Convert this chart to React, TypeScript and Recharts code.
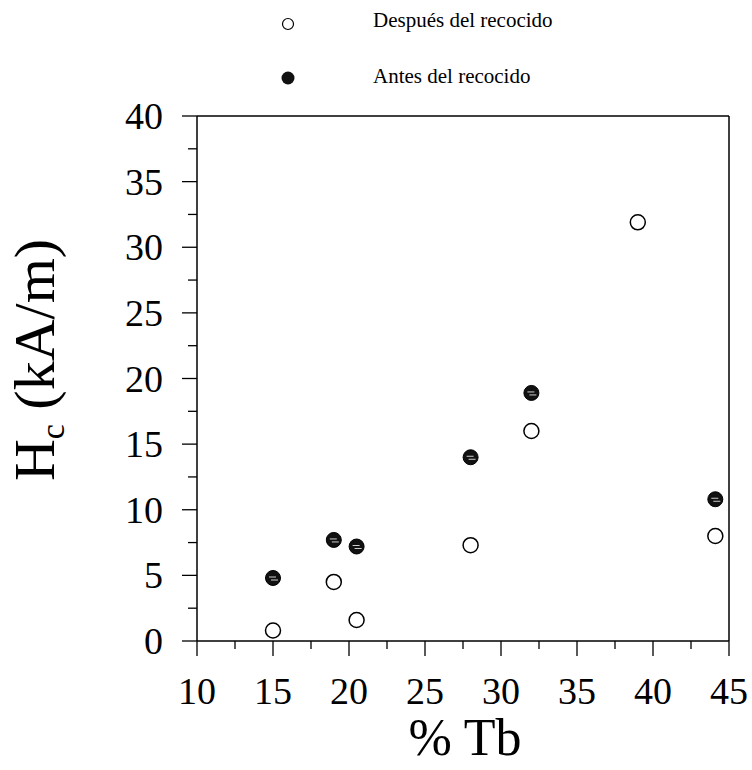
import {
  ScatterChart,
  Scatter,
  XAxis,
  YAxis,
  ReferenceLine,
} from 'recharts';

const FONT = '"Liberation Serif", "Times New Roman", Times, serif';
const serif = { fontFamily: FONT };

// Hc (kA/m) vs % Tb
const afterAnneal = [
  { tb: 15, hc: 0.8 },
  { tb: 19, hc: 4.5 },
  { tb: 20.5, hc: 1.6 },
  { tb: 28, hc: 7.3 },
  { tb: 32, hc: 16.0 },
  { tb: 39, hc: 31.9 },
  { tb: 44.1, hc: 8.0 },
];

const beforeAnneal = [
  { tb: 15, hc: 4.8 },
  { tb: 19, hc: 7.7 },
  { tb: 20.5, hc: 7.2 },
  { tb: 28, hc: 14.0 },
  { tb: 32, hc: 18.9 },
  { tb: 44.1, hc: 10.8 },
];

const xTicks = [10, 12.5, 15, 17.5, 20, 22.5, 25, 27.5, 30, 32.5, 35, 37.5, 40, 42.5, 45];
const yTicks = [0, 2.5, 5, 7.5, 10, 12.5, 15, 17.5, 20, 22.5, 25, 27.5, 30, 32.5, 35, 37.5, 40];

const isMajor = (v: number) => v % 5 === 0;

function YTick({ x, y, payload }: any) {
  const major = isMajor(payload.value);
  return (
    <g>
      <line x1={x - (major ? 15 : 9)} x2={x} y1={y} y2={y} stroke="#000" strokeWidth={1.3} />
      {major && (
        <text x={x - 34} y={y + 13} textAnchor="end" style={serif} fontSize={38} fill="#000">
          {payload.value}
        </text>
      )}
    </g>
  );
}

function XTick({ x, y, payload }: any) {
  const major = isMajor(payload.value);
  return (
    <g>
      <line x1={x} x2={x} y1={y} y2={y + (major ? 15 : 8)} stroke="#000" strokeWidth={1.3} />
      {major && (
        <text x={x} y={y + 63} textAnchor="middle" style={serif} fontSize={38} fill="#000">
          {payload.value}
        </text>
      )}
    </g>
  );
}

function OpenDot({ cx, cy }: any) {
  return <circle cx={cx} cy={cy} r={7.5} fill="#fff" stroke="#000" strokeWidth={1.5} />;
}

function FilledDot({ cx, cy }: any) {
  return (
    <g>
      <circle cx={cx} cy={cy} r={7.5} fill="#111" stroke="#000" strokeWidth={1} />
      <line x1={cx - 4} x2={cx + 3} y1={cy - 1} y2={cy - 1} stroke="#fff" strokeWidth={0.8} />
      <line x1={cx - 2} x2={cx + 5} y1={cy + 2} y2={cy + 2} stroke="#fff" strokeWidth={0.8} />
    </g>
  );
}

function LegendBox() {
  return (
    <svg width={300} height={100} style={{ position: 'absolute', left: 280, top: 0 }}>
      <circle cx={8} cy={24} r={5.5} fill="#fff" stroke="#000" strokeWidth={1.2} />
      <text x={93} y={27} style={serif} fontSize={21} fill="#000">
        Después del recocido
      </text>
      <circle cx={8} cy={78} r={6.5} fill="#111" />
      <text x={93} y={83} style={serif} fontSize={21} fill="#000">
        Antes del recocido
      </text>
    </svg>
  );
}

export default function App() {
  return (
    <div style={{ position: 'absolute', left: 0, top: 0, width: 752, height: 770, background: '#fff' }}>
      <ScatterChart width={752} height={770} margin={{ top: 116, right: 23, left: 97, bottom: 69 }}>
        <XAxis
          type="number"
          dataKey="tb"
          domain={[10, 45]}
          ticks={xTicks}
          interval={0}
          tick={<XTick />}
          tickSize={0}
          tickMargin={0}
          tickLine={false}
          axisLine={{ stroke: '#000', strokeWidth: 1.5 }}
          height={60}
        />
        <YAxis
          type="number"
          dataKey="hc"
          domain={[0, 40]}
          ticks={yTicks}
          interval={0}
          tick={<YTick />}
          tickSize={0}
          tickMargin={0}
          tickLine={false}
          axisLine={{ stroke: '#000', strokeWidth: 1.5 }}
          width={100}
        />
        <ReferenceLine y={40} stroke="#000" strokeWidth={1.5} />
        <ReferenceLine x={45} stroke="#000" strokeWidth={1.5} />
        <Scatter name="Después del recocido" data={afterAnneal} shape={<OpenDot />} isAnimationActive={false} />
        <Scatter name="Antes del recocido" data={beforeAnneal} shape={<FilledDot />} isAnimationActive={false} />
        <text transform="translate(54, 360) rotate(-90)" textAnchor="middle" style={serif} fontSize={58} fill="#000">
          H<tspan fontSize={34} dy={10}>c</tspan>
          <tspan dy={-10}> (kA/m)</tspan>
        </text>
        <text x={465} y={755} textAnchor="middle" style={serif} fontSize={52} fill="#000">
          % Tb
        </text>
      </ScatterChart>
      <LegendBox />
    </div>
  );
}
